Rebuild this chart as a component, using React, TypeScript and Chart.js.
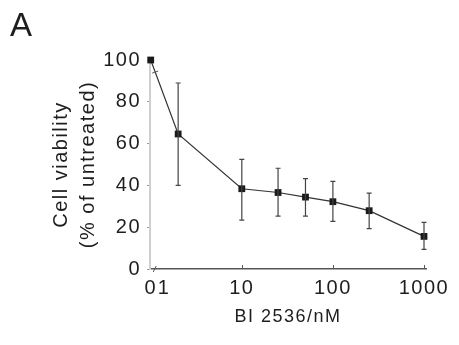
import React, { useEffect, useRef } from "react";
import { Chart, registerables } from "chart.js";

Chart.register(...registerables);

// ---- data ----
const doses = [0, 2, 10, 25, 50, 100, 250, 1000];
const untreatedPosition = 1; // position of the untreated (0 nM) sample on the log axis
const viability = [100, 64.6, 38.4, 36.6, 34.4, 32.2, 27.9, 15.6];
const errUpper = [100, 89.0, 52.5, 48.2, 43.2, 41.9, 36.3, 22.3];
const errLower = [100, 40.0, 23.4, 25.3, 25.3, 22.8, 19.3, 9.4];
const xTickValues = [1, 1.4, 10, 100, 1000];
const xTickLabels = ["0", "1", "10", "100", "1000"];
const xTickMarks = [10, 100, 1000];
const xBreakAt = 1.12;
const yTickLabelValues = [0, 20, 40, 60, 80, 100];
const panelLabel = "A";
const xTitle = "BI 2536/nM";
const yTitle = ["Cell viability", "(% of untreated)"];

const FONT = "'Liberation Sans', Arial, Helvetica, sans-serif";
const TEXT = "#1e1e1e";

const xPos = (d: number) => (d === 0 ? untreatedPosition : d);

const decorPlugin = {
  id: "decor",
  beforeLayout(chart: any) {
    chart.ctx.letterSpacing = "1.5px";
  },
  beforeDraw(chart: any) {
    chart.ctx.letterSpacing = "1.5px";
  },
  afterDatasetsDraw(chart: any) {
    const { ctx } = chart;
    const x = chart.scales.x;
    const y = chart.scales.y;
    ctx.save();
    // error bars
    ctx.strokeStyle = "#444";
    ctx.lineWidth = 1.2;
    doses.forEach((d, i) => {
      if (errUpper[i] === errLower[i]) return;
      const px = x.getPixelForValue(xPos(d));
      const top = y.getPixelForValue(errUpper[i]);
      const bot = y.getPixelForValue(errLower[i]);
      ctx.beginPath();
      ctx.moveTo(px, top);
      ctx.lineTo(px, bot);
      ctx.moveTo(px - 2.5, top);
      ctx.lineTo(px + 2.5, top);
      ctx.moveTo(px - 2.5, bot);
      ctx.lineTo(px + 2.5, bot);
      ctx.stroke();
    });
    // inward tick marks on x axis
    ctx.strokeStyle = "#555";
    ctx.lineWidth = 1;
    xTickMarks.forEach((v) => {
      const px = Math.round(x.getPixelForValue(v)) + 0.5;
      ctx.beginPath();
      ctx.moveTo(px, y.bottom);
      ctx.lineTo(px, y.bottom - 4);
      ctx.stroke();
    });
    // axis break marks
    const bx = x.getPixelForValue(xBreakAt);
    ctx.strokeStyle = "#555";
    ctx.beginPath();
    ctx.moveTo(bx - 2, y.bottom + 3);
    ctx.lineTo(bx + 1, y.bottom - 3);
    ctx.stroke();
    const x0 = x.getPixelForValue(xPos(doses[0]));
    const x1 = x.getPixelForValue(xPos(doses[1]));
    const y0 = y.getPixelForValue(viability[0]);
    const y1 = y.getPixelForValue(viability[1]);
    const by = y0 + ((bx - x0) / (x1 - x0)) * (y1 - y0);
    ctx.beginPath();
    ctx.moveTo(bx - 3, by + 1);
    ctx.lineTo(bx + 3, by - 1);
    ctx.stroke();
    ctx.restore();
  },
  afterDraw(chart: any) {
    const { ctx } = chart;
    ctx.save();
    ctx.letterSpacing = "0px";
    ctx.fillStyle = TEXT;
    ctx.font = `33px ${FONT}`;
    ctx.textBaseline = "alphabetic";
    ctx.textAlign = "left";
    ctx.fillText(panelLabel, 10, 36);
    ctx.restore();
  },
};

export default function App() {
  const ref = useRef<HTMLCanvasElement | null>(null);

  useEffect(() => {
    document.body.style.margin = "0";
    const canvas = ref.current;
    if (!canvas) return;
    const chart = new Chart(canvas, {
      type: "line",
      data: {
        datasets: [
          {
            data: doses.map((d, i) => ({ x: xPos(d), y: viability[i] })),
            borderColor: "#333",
            backgroundColor: "#1a1a1a",
            borderWidth: 1.2,
            pointStyle: "rect",
            pointRadius: 4.8,
            pointBorderWidth: 0,
            tension: 0,
            clip: false,
          },
        ],
      },
      options: {
        animation: false,
        responsive: false,
        devicePixelRatio: 1,
        layout: { padding: { left: 0, right: 33, top: 60, bottom: 0 } },
        plugins: {
          legend: { display: false },
          tooltip: { enabled: false },
          title: { display: false },
        },
        scales: {
          x: {
            type: "logarithmic",
            min: 0.982,
            max: 1052,
            afterBuildTicks(scale: any) {
              scale.ticks = xTickValues.map((v) => ({ value: v }));
            },
            afterFit(scale: any) {
              scale.height = 76;
            },
            ticks: {
              autoSkip: false,
              maxRotation: 0,
              padding: 7,
              color: TEXT,
              font: { family: FONT, size: 20 },
              callback: (v: any) => {
                const i = xTickValues.indexOf(Number(v));
                return i >= 0 ? xTickLabels[i] : "";
              },
            },
            grid: { display: false, drawTicks: false },
            border: { display: true, color: "#555", width: 1.5 },
            title: {
              display: true,
              text: xTitle,
              color: TEXT,
              font: { family: FONT, size: 18 },
              padding: { top: 0, bottom: 17 },
            },
          },
          y: {
            type: "linear",
            min: 0,
            max: 100,
            afterFit(scale: any) {
              scale.width = 150;
            },
            ticks: {
              stepSize: 10,
              padding: 6,
              color: TEXT,
              font: { family: FONT, size: 20 },
              callback: (v: any) =>
                yTickLabelValues.includes(Number(v)) ? String(v) : "",
            },
            grid: {
              drawOnChartArea: false,
              drawTicks: true,
              tickLength: 3,
              color: "#999",
            },
            border: { display: true, color: "#cfcfcf", width: 2 },
            title: {
              display: true,
              text: yTitle,
              color: TEXT,
              font: { family: FONT, size: 20, lineHeight: 1.35 },
              padding: { top: 48, bottom: 4 },
            },
          },
        },
      },
      plugins: [decorPlugin],
    } as any);
    return () => chart.destroy();
  }, []);

  return (
    <div style={{ width: 459, height: 345, background: "#fff" }}>
      <canvas ref={ref} width={459} height={345} />
    </div>
  );
}
